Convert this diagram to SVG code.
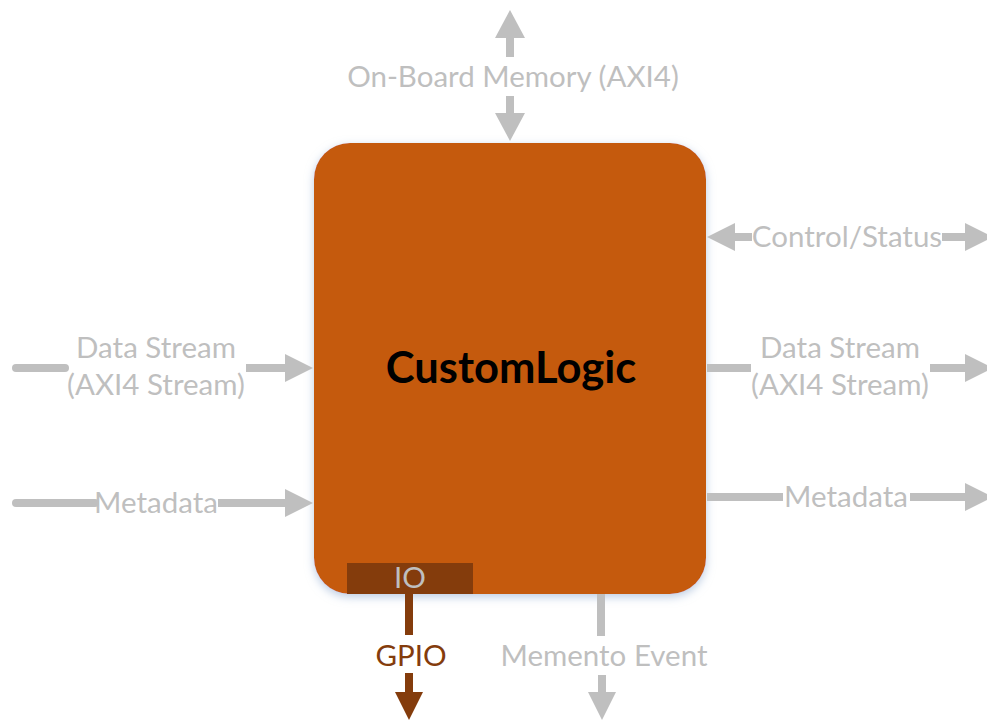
<svg xmlns="http://www.w3.org/2000/svg" width="987" height="720" viewBox="0 0 987 720">
  <defs>
    <filter id="glow" x="-10%" y="-10%" width="120%" height="120%">
      <feDropShadow dx="0" dy="3" stdDeviation="5" flood-color="#9fb6d6" flood-opacity="0.7"/>
    </filter>
  </defs>
  <style>
    text { font-family: Lato, "Open Sans", "Liberation Sans", sans-serif; }
    .lbl { fill: #bfbfbf; font-size: 29.5px; }
    .gline { stroke: #bfbfbf; stroke-width: 8; fill: none; }
    .ghead { fill: #bfbfbf; }
    .bline { stroke: #843c0c; stroke-width: 8; fill: none; }
    .bhead { fill: #843c0c; }
  </style>

  <!-- main block -->
  <g id="customlogic">
    <rect x="314" y="143" width="392" height="451" rx="36" ry="36" fill="#c55a11" filter="url(#glow)"/>
    <text x="511" y="383" text-anchor="middle" font-size="43.5" font-weight="bold" fill="#000">CustomLogic</text>
  </g>
  <g id="io">
    <rect x="347" y="563" width="126" height="31" fill="#843c0c"/>
    <text x="410" y="588" text-anchor="middle" class="lbl">IO</text>
  </g>

  <!-- connectors -->
  <g id="connectors">
    <!-- on-board memory, bidirectional -->
    <line class="gline" x1="510" y1="38" x2="510" y2="57"/>
    <polygon class="ghead" points="510,10 525,38 495,38"/>
    <line class="gline" x1="510" y1="96" x2="510" y2="114"/>
    <polygon class="ghead" points="495,113 525,113 510,141"/>

    <!-- control/status, bidirectional -->
    <polygon class="ghead" points="707,237 735,223 735,251"/>
    <line class="gline" x1="734" y1="237" x2="752" y2="237"/>
    <line class="gline" x1="942" y1="237" x2="966" y2="237"/>
    <polygon class="ghead" points="965,223 993,237 965,251"/>

    <!-- data stream in -->
    <line class="gline" x1="16" y1="368" x2="65" y2="368" stroke-linecap="round"/>
    <line class="gline" x1="246" y1="368" x2="286" y2="368"/>
    <polygon class="ghead" points="285,354 313,368 285,382"/>

    <!-- metadata in -->
    <line class="gline" x1="16" y1="503" x2="95" y2="503" stroke-linecap="round"/>
    <line class="gline" x1="218" y1="503" x2="286" y2="503"/>
    <polygon class="ghead" points="285,489 313,503 285,517"/>

    <!-- data stream out -->
    <line class="gline" x1="707" y1="368" x2="751" y2="368"/>
    <line class="gline" x1="930" y1="368" x2="966" y2="368"/>
    <polygon class="ghead" points="965,354 993,368 965,382"/>

    <!-- metadata out -->
    <line class="gline" x1="707" y1="497" x2="783" y2="497"/>
    <line class="gline" x1="910" y1="497" x2="966" y2="497"/>
    <polygon class="ghead" points="965,483 993,497 965,511"/>

    <!-- gpio -->
    <line class="bline" x1="409" y1="594" x2="409" y2="635"/>
    <line class="bline" x1="409" y1="673" x2="409" y2="693"/>
    <polygon class="bhead" points="395,692 423,692 409,720"/>

    <!-- memento event -->
    <line class="gline" x1="601" y1="594" x2="601" y2="636"/>
    <line class="gline" x1="602" y1="675" x2="602" y2="693"/>
    <polygon class="ghead" points="588,692 616,692 602,720"/>
  </g>

  <!-- connector labels -->
  <g id="labels">
    <text class="lbl" x="513" y="87" text-anchor="middle">On-Board Memory (AXI4)</text>
    <text class="lbl" x="847" y="247" text-anchor="middle">Control/Status</text>
    <text class="lbl" x="156" y="358" text-anchor="middle">Data Stream</text>
    <text class="lbl" x="156" y="395" text-anchor="middle">(AXI4 Stream)</text>
    <text class="lbl" x="156" y="513" text-anchor="middle">Metadata</text>
    <text class="lbl" x="840" y="358" text-anchor="middle">Data Stream</text>
    <text class="lbl" x="840" y="395" text-anchor="middle">(AXI4 Stream)</text>
    <text class="lbl" x="846" y="507" text-anchor="middle">Metadata</text>
    <text x="411" y="666" text-anchor="middle" font-size="29.5" fill="#843c0c">GPIO</text>
    <text class="lbl" x="604" y="666" text-anchor="middle">Memento Event</text>
  </g>
</svg>
